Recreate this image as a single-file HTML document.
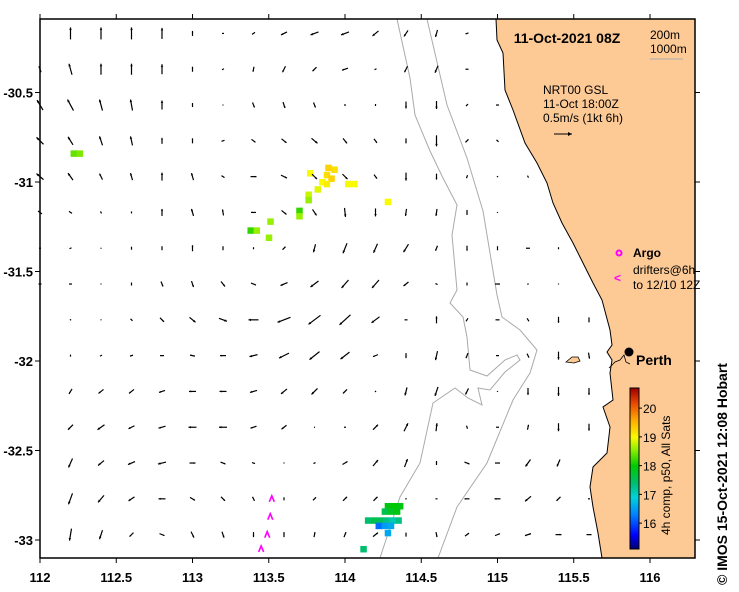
<!DOCTYPE html>
<html><head><meta charset="utf-8"><style>
body{margin:0;background:#fff;}
svg{display:block;font-family:"Liberation Sans",sans-serif;}
</style></head><body>
<svg id="map" width="739" height="592" viewBox="0 0 739 592" xmlns="http://www.w3.org/2000/svg">
<rect width="739" height="592" fill="#fff"/>
<g id="land-layer"></g>
<g id="contours"></g>
<g id="sst"></g>
<g id="arrows"></g>
<g id="drifters"></g>
<g id="axes"></g>
<g id="cbar"></g>
<text x="567" y="43" font-size="14" font-weight="bold" text-anchor="middle">11-Oct-2021 08Z</text>
<text x="650" y="39" font-size="12">200m</text>
<text x="650" y="53" font-size="12">1000m</text>
<line x1="650" y1="59" x2="683" y2="59" stroke="#aaa"/>
<text x="543" y="94" font-size="12">NRT00 GSL</text>
<text x="543" y="108" font-size="12">11-Oct 18:00Z</text>
<text x="543" y="122" font-size="12">0.5m/s (1kt 6h)</text>
<g><line x1="554" y1="134" x2="572" y2="134" stroke="#000"/><path d="M572,134 l-4,-2 v4z" fill="#000"/></g>
<circle cx="619" cy="253" r="2.5" fill="none" stroke="#f0f" stroke-width="2"/>
<text x="633" y="257" font-size="12" font-weight="bold">Argo</text>
<text x="614" y="282" font-size="12" fill="#f0f" font-weight="bold">&lt;</text>
<text x="633" y="274" font-size="12">drifters@6h</text>
<text x="633" y="289" font-size="12">to 12/10 12Z</text>
<circle cx="629" cy="352" r="4.5" fill="#000"/>
<text x="636" y="365" font-size="14" font-weight="bold">Perth</text>
<text transform="translate(727,585) rotate(-90)" font-size="14" font-weight="bold">©  IMOS 15-Oct-2021 12:08 Hobart</text>
</svg>
<script>
const NS="http://www.w3.org/2000/svg";
const X0=40,X1=695,Y0=19,Y1=558;
const lonMin=112,pxPerLon=152.5,latRef=-32,yRef=361,pxPerLat=179;
function xs(lon){return X0+(lon-lonMin)*pxPerLon;}
function ys(lat){return yRef-(lat-latRef)*pxPerLat;}
function mk(tag,attrs,parent){const e=document.createElementNS(NS,tag);for(const k in attrs)e.setAttribute(k,attrs[k]);parent.appendChild(e);return e;}

const xTicks=[112,112.5,113,113.5,114,114.5,115,115.5,116];
const xTickLabels=["112","112.5","113","113.5","114","114.5","115","115.5","116"];
const yTicks=[-30.5,-31,-31.5,-32,-32.5,-33];
const yTickLabels=["-30.5","-31","-31.5","-32","-32.5","-33"];

const gridLon0=112.0,gridLat0=-30.17,gridStep=0.2;
const uRows=[
[null,0,0,0,0,0,6,-9,-18,-24,-24,-18,-12,-6,-9],
[-6,-9,0,0,0,0,-6,-3,-9,-12,-18,-6,-9,-9,-9],
[-18,-18,-9,-6,0,0,0,6,6,6,0,0,0,0,-6,-9],
[-21,-15,-9,-6,0,0,-9,12,15,18,12,9,0,0,-9,6],
[-21,-15,-9,-6,0,-6,-9,18,18,15,15,9,0,0,-3,3,3],
[-12,-9,-3,0,0,-6,-3,-15,15,12,3,0,-3,-3,0,0,0],
[-6,-6,0,0,0,0,0,0,9,-6,-12,-12,-15,-6,0,0,-12,0],
[-9,-9,0,0,6,6,12,15,-21,-24,-21,-21,-15,6,0,15,-3,0],
[-3,3,0,6,12,18,24,-30,-39,-36,-33,-24,-9,0,-6,12,6,0,0],
[0,0,-6,-9,-12,-15,-18,-24,-30,-30,-27,-15,0,-6,-6,9,6,0,3],
[null,-9,-15,-15,-18,-21,-21,-21,-18,-18,-12,-3,-6,-9,-9,0,0,0,0],
[null,-15,-21,-18,-21,-24,-24,-18,-15,-3,-6,15,12,3,3,9,3,0,0],
[null,-12,-18,-21,-24,18,15,9,3,6,15,15,9,0,15,15,-15,-9],
[null,-12,-18,-18,-21,15,12,6,0,9,12,12,3,6,-15,-18,-18,-12,-6],
[null,-6,-9,-12,15,9,6,0,0,3,6,15,0,3,12,15,18,18,15]
];
const vRows=[
[null,36,36,36,33,15,0,-6,-9,-9,-9,-15,-18,-21,-3],
[18,33,33,33,30,15,-3,-15,-18,-12,-6,-3,-18,-21,0],
[30,33,33,33,27,12,-3,-15,-18,-15,-6,-6,-21,-24,-6,0],
[21,24,27,27,18,15,-3,-9,-12,-15,-15,-12,-15,-33,-9,-6],
[18,21,18,21,24,21,6,0,-9,-15,-15,-12,-24,-18,-9,-3,-6],
[9,6,6,6,21,21,18,0,-12,-18,-27,-24,-21,-21,-15,-3,0],
[0,-3,-3,9,12,18,12,6,9,-24,-30,-27,-24,-15,-15,-12,0,-6],
[0,0,-3,9,-15,-18,-15,-6,-9,-18,-24,-24,-12,-3,-9,0,-3,-3],
[0,-3,-3,-6,-12,-15,-9,0,-15,-27,-30,-18,0,21,-9,0,-9,-18,-15],
[-3,6,-3,-3,0,3,0,-6,-15,-24,-21,-6,-15,-27,-15,0,-12,-24,-18],
[null,-15,-12,-12,-6,0,0,-6,-15,-18,-12,-3,-24,-27,-18,-3,-21,-27,-21],
[null,-15,-15,-9,-6,0,0,-6,-12,0,0,15,24,24,-9,0,15,-24,-21],
[null,-27,-15,-9,-6,0,-6,-3,0,3,9,18,24,-12,-6,0,-21,-21],
[null,-33,-21,-12,0,-9,-12,-12,9,9,12,12,3,0,0,0,-15,-12,0],
[null,-36,-27,-12,-6,-18,-18,-15,15,15,15,12,-12,-15,9,6,6,0,0]
];
const pxPerCms=1/3;

const sstLon=[112.22,112.26,113.77,113.89,113.93,113.88,113.91,113.85,113.88,114.02,114.06,113.82,114.28,113.76,113.76,113.70,113.70,113.51,113.38,113.42,113.50,
114.28,114.32,114.36,114.26,114.30,114.34,114.15,114.19,114.23,114.27,114.31,114.35,114.22,114.26,114.30,114.28,114.12];
const sstLat=[-30.84,-30.84,-30.95,-30.92,-30.93,-30.96,-30.98,-31.00,-31.01,-31.01,-31.01,-31.04,-31.11,-31.07,-31.10,-31.16,-31.19,-31.22,-31.27,-31.27,-31.31,
-32.81,-32.81,-32.81,-32.84,-32.84,-32.84,-32.89,-32.89,-32.89,-32.89,-32.89,-32.89,-32.92,-32.92,-32.92,-32.96,-33.05];
const sstTemp=[18.4,18.5,19.0,19.3,19.2,19.2,19.3,19.0,19.1,19.0,19.0,18.9,19.0,18.8,18.6,18.2,18.6,18.6,18.2,18.6,18.6,
17.9,18.0,17.9,17.6,17.8,17.9,17.4,17.6,17.5,17.3,17.1,17.3,16.2,16.5,16.6,16.6,17.4];

const drifterLon=[113.52,113.51,113.49,113.45];
const drifterLat=[-32.77,-32.87,-32.97,-33.05];

const cbarTicks=[16,17,18,19,20];
const cbarMin=15.1,cbarMax=20.7;
const cmapT=[15.1,15.6,16.3,16.9,17.4,18.0,18.6,19.0,19.6,20.2,20.7];
const cmapC=[[0,0,110],[0,0,255],[0,128,255],[0,210,220],[0,190,110],[0,200,0],[150,240,0],[250,250,0],[255,170,0],[230,70,0],[160,0,0]];
function tcol(T){T=Math.max(cbarMin,Math.min(cbarMax,T));let i=0;while(i<cmapT.length-2&&T>cmapT[i+1])i++;
 const f=(T-cmapT[i])/(cmapT[i+1]-cmapT[i]);const a=cmapC[i],b=cmapC[i+1];
 return `rgb(${Math.round(a[0]+(b[0]-a[0])*f)},${Math.round(a[1]+(b[1]-a[1])*f)},${Math.round(a[2]+(b[2]-a[2])*f)})`;}

const coast=[[496,19],[497,40],[503,53],[505,90],[513,110],[525,143],[537,163],[547,183],[553,203],[562,223],[573,243],[583,263],[593,283],[602,300],[610,330],[612,345],[607,352],[612,360],[610,373],[613,400],[603,407],[610,427],[607,453],[593,467],[590,487],[593,507],[598,533],[602,558]];
const land=document.getElementById('land-layer');
const lp=mk('path',{d:'M'+coast.map(p=>p.join(',')).join(' L')+` L${X1},${Y1} L${X1},${Y0} Z`,fill:'#fdca96',stroke:'#000','stroke-width':1},land);


const isl=mk('path',{d:'M566,362 L572,357 L578,357 L580,361 L574,363 Z',fill:'#fdca96',stroke:'#000','stroke-width':0.8},land);


const riv=mk('path',{d:'M609,368 L615,362 L620,360 L624,355 L626,362 L630,364',fill:'none',stroke:'#000','stroke-width':0.8},land);



const c1000=[[397,19],[410,78],[415,115],[430,151],[443,178],[457,205],[452,235],[457,290],[450,303],[463,317],[467,337],[470,370],[487,376],[505,360],[517,355],[520,360],[505,372],[490,390],[478,388],[482,405],[468,398],[455,388],[433,403],[420,463],[400,497],[380,558]];
const c200=[[427,19],[447,105],[467,158],[483,211],[497,295],[502,317],[520,330],[537,350],[530,373],[513,400],[487,463],[457,507],[438,558]];
const cg=document.getElementById('contours');
[c200,c1000].forEach((c,i)=>{const p=mk('polyline',{points:c.map(q=>q.join(',')).join(' '),fill:'none',stroke:'#aaa','stroke-width':1},cg);
 
 });

const sg=document.getElementById('sst');
sstLon.forEach((lon,i)=>{const r=mk('rect',{x:xs(lon)-3,y:ys(sstLat[i])-3,width:6.5,height:6.5,fill:tcol(sstTemp[i])},sg);
 
 });

const ag=document.getElementById('arrows');
uRows.forEach((row,ri)=>{row.forEach((u,ci)=>{const v=vRows[ri][ci];if(u===null||v===null||v===undefined)return;
 const cx=xs(gridLon0+ci*gridStep),cy=ys(gridLat0-ri*gridStep);
 const dx=u*pxPerCms,dy=-v*pxPerCms;const L=Math.hypot(dx,dy);
 const g=mk('g',{},ag);
 
 
 const x1=cx-dx/2,y1=cy-dy/2,x2=cx+dx/2,y2=cy+dy/2;
 mk('line',{x1:x1,y1:y1,x2:x2,y2:y2,stroke:'#000','stroke-width':1.2},g);
 if(L>1){const ux=dx/L,uy=dy/L,h=Math.min(2.5,L*0.3);
  mk('path',{d:`M${x2},${y2} L${x2-ux*h-uy*h*0.5},${y2-uy*h+ux*h*0.5} L${x2-ux*h+uy*h*0.5},${y2-uy*h-ux*h*0.5}Z`,fill:'#000'},g);}
});});

const dg=document.getElementById('drifters');
drifterLon.forEach((lon,i)=>{const x=xs(lon),y=ys(drifterLat[i]);
 const p=mk('path',{d:`M${x-2.5},${y+3} L${x},${y-3} L${x+2.5},${y+3}`,fill:'none',stroke:'#f0f','stroke-width':1.6},dg);
 
 });

const ax=document.getElementById('axes');
const fr=mk('rect',{x:X0,y:Y0,width:X1-X0,height:Y1-Y0,fill:'none',stroke:'#000','stroke-width':1.5},ax);


xTicks.forEach((t,i)=>{const x=xs(t);
 mk('line',{x1:x,y1:Y0,x2:x,y2:Y0-5,stroke:'#000'},ax);mk('line',{x1:x,y1:Y1,x2:x,y2:Y1+5,stroke:'#000'},ax);
 const l=mk('text',{x:x,y:582,'font-size':13,'font-weight':'bold','text-anchor':'middle'},ax);l.textContent=xTickLabels[i];
 
 });
yTicks.forEach((t,i)=>{const y=ys(t);
 mk('line',{x1:X0,y1:y,x2:X0-5,y2:y,stroke:'#000'},ax);mk('line',{x1:X1,y1:y,x2:X1+5,y2:y,stroke:'#000'},ax);
 const l=mk('text',{x:33,y:y+5,'font-size':13,'font-weight':'bold','text-anchor':'end'},ax);l.textContent=yTickLabels[i];
 
 });

const cb=document.getElementById('cbar');
const cbT=388,cbB=549,cbL=630,cbW=9;
for(let y=cbT;y<cbB;y++){const T=cbarMax-(y-cbT)/(cbB-cbT)*(cbarMax-cbarMin);mk('rect',{x:cbL,y:y,width:cbW,height:1.2,fill:tcol(T)},cb);}
const cbf=mk('rect',{x:cbL,y:cbT,width:cbW,height:cbB-cbT,fill:'none',stroke:'#000'},cb);


cbarTicks.forEach(t=>{const y=cbB-(t-cbarMin)/(cbarMax-cbarMin)*(cbB-cbT);
 mk('line',{x1:cbL+cbW,y1:y,x2:cbL+cbW+3,y2:y,stroke:'#000'},cb);
 const l=mk('text',{x:643,y:y+5,'font-size':12},cb);l.textContent=String(t);
 
 });
const cl=mk('text',{transform:'translate(670,535) rotate(-90)','font-size':12},cb);cl.textContent='4h comp, p50, All Sats';


</script>
</body></html>
